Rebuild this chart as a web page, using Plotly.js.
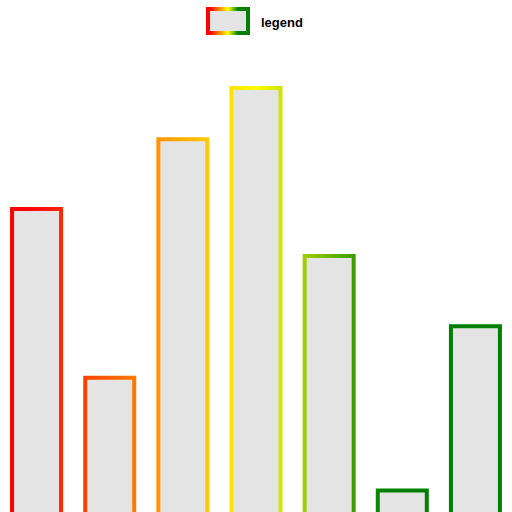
<!DOCTYPE html>
<html>
<head>
<meta charset="utf-8">
<script src="https://cdn.plot.ly/plotly-3.0.1.min.js"></script>
<style>
  html, body { margin: 0; padding: 0; background: #ffffff; }
  #chart { width: 512px; height: 512px; }
</style>
</head>
<body>
<div id="chart"></div>
<script>
// ---- data ----
const categories = ['A', 'B', 'C', 'D', 'E', 'F', 'G'];
const values = [60.2, 27.2, 73.8, 83.8, 51, 5.2, 37.3];
const seriesName = 'legend';

// ---- style ----
const fillColor = '#e4e4e4';
const gradStops = [
  [0, '#ff0000'],
  [0.05, '#ff0000'],
  [0.5, '#ffff00'],
  [0.75, '#008000'],
  [1, '#008000']
];
const fallbackLineColors = ['#ff2000', '#ff5a00', '#ffaa00', '#f0f000', '#80c000', '#108800', '#008000'];

const trace = {
  type: 'bar',
  x: categories,
  y: values,
  name: seriesName,
  marker: {
    color: fillColor,
    line: { color: fallbackLineColors, width: 4 }
  },
  hoverinfo: 'none',
  showlegend: false
};

const layout = {
  width: 512,
  height: 512,
  margin: { l: 0, r: 0, t: 0, b: 0, pad: 0 },
  paper_bgcolor: '#ffffff',
  plot_bgcolor: '#ffffff',
  bargap: 0.33,
  showlegend: false,
  xaxis: { visible: false, showgrid: false, zeroline: false, fixedrange: true },
  yaxis: { visible: false, showgrid: false, zeroline: false, range: [1, 101], fixedrange: true },
  shapes: [{
    type: 'rect', xref: 'paper', yref: 'paper',
    x0: 208 / 512, x1: 248 / 512, y0: 1 - 33 / 512, y1: 1 - 9 / 512,
    fillcolor: fillColor,
    line: { color: '#ff0000', width: 4 }
  }],
  annotations: [{
    xref: 'paper', yref: 'paper',
    x: 259 / 512, y: 1 - 22 / 512,
    xanchor: 'left', yanchor: 'middle',
    text: '<b>' + seriesName + '</b>',
    showarrow: false,
    font: { family: 'Liberation Sans, Arial, sans-serif', size: 13, color: '#000000' }
  }]
};

function makeGradient(doc, defs, id, userSpace) {
  const ns = 'http://www.w3.org/2000/svg';
  const g = doc.createElementNS(ns, 'linearGradient');
  g.setAttribute('id', id);
  if (userSpace) {
    g.setAttribute('gradientUnits', 'userSpaceOnUse');
    g.setAttribute('x1', '0'); g.setAttribute('x2', '512');
  } else {
    g.setAttribute('x1', '0'); g.setAttribute('x2', '1');
  }
  g.setAttribute('y1', '0'); g.setAttribute('y2', '0');
  gradStops.forEach(s => {
    const st = doc.createElementNS(ns, 'stop');
    st.setAttribute('offset', s[0]);
    st.setAttribute('stop-color', s[1]);
    g.appendChild(st);
  });
  defs.appendChild(g);
}

Plotly.newPlot('chart', [trace], layout, { displayModeBar: false, staticPlot: true }).then(gd => {
  const svg = gd.querySelector('svg.main-svg');
  const ns = 'http://www.w3.org/2000/svg';
  let defs = svg.querySelector('defs');
  if (!defs) { defs = document.createElementNS(ns, 'defs'); svg.insertBefore(defs, svg.firstChild); }
  makeGradient(document, defs, 'barStrokeGrad', true);
  makeGradient(document, defs, 'legendStrokeGrad', false);
  gd.querySelectorAll('.barlayer .point path').forEach(p => {
    p.style.stroke = 'url(#barStrokeGrad)';
  });
  gd.querySelectorAll('.shapelayer path').forEach(p => {
    p.style.stroke = 'url(#legendStrokeGrad)';
  });
});
</script>
</body>
</html>
